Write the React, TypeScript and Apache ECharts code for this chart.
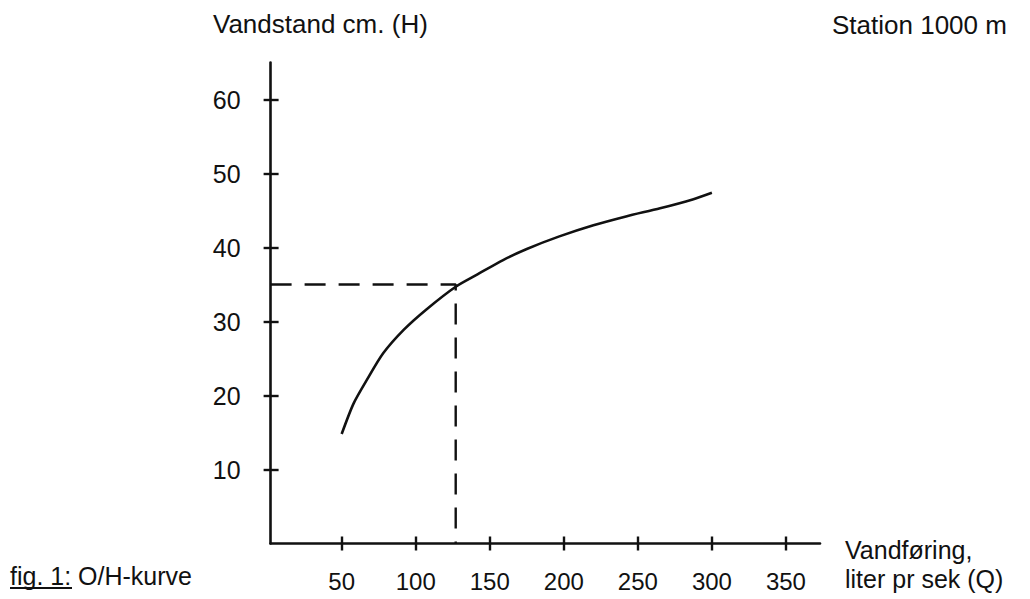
import React, { useEffect, useRef } from "react";
import * as echarts from "echarts";

// Discharge Q (litres per second) and water level H (cm) along the rating curve
const flowValues = [50, 58, 67, 78, 92, 107, 127, 142, 159, 175, 197, 220, 242, 265, 287, 300];
const stageValues = [14.8, 18.9, 22.1, 25.7, 28.9, 31.6, 34.7, 36.4, 38.3, 39.8, 41.5, 43.0, 44.2, 45.3, 46.5, 47.4];

// Reading taken off the curve (dashed guide lines)
const readFlow = 127;
const readStage = 35;

const flowTicks = [50, 100, 150, 200, 250, 300, 350];
const stageTicks = [10, 20, 30, 40, 50, 60];

const FLOW_MIN = 2;
const FLOW_MAX = 373;
const STAGE_MIN = 0;
const STAGE_MAX = 65;

const INK = "#111111";
const FONT = "'Liberation Sans', Arial, sans-serif";

export default function App() {
  const ref = useRef<HTMLDivElement>(null);

  useEffect(() => {
    if (!ref.current) return;
    const chart = echarts.init(ref.current, undefined, { renderer: "svg" });

    const curve = flowValues.map((q, i) => [q, stageValues[i]]);
    const guide = [
      [FLOW_MIN, readStage],
      [readFlow, readStage],
      [readFlow, STAGE_MIN],
    ];

    const baseX = {
      type: "value" as const,
      min: FLOW_MIN,
      max: FLOW_MAX,
      position: "bottom" as const,
      splitLine: { show: false },
    };
    const baseY = {
      type: "value" as const,
      min: STAGE_MIN,
      max: STAGE_MAX,
      position: "left" as const,
      splitLine: { show: false },
    };

    const textStyle = (text: string, size: number) => ({
      text,
      font: `${size}px ${FONT}`,
      fill: INK,
      textAlign: "left",
      textVerticalAlign: "middle",
      align: "left",
      verticalAlign: "middle",
    });

    chart.setOption({
      animation: false,
      backgroundColor: "#ffffff",
      grid: { left: 270.6, right: 210, top: 62.5, bottom: 55.5, containLabel: false },
      xAxis: [
        {
          ...baseX,
          axisLine: { show: true, lineStyle: { color: INK, width: 2.6 } },
          axisTick: {
            show: true,
            inside: false,
            length: 7,
            customValues: flowTicks,
            lineStyle: { color: INK, width: 2.4 },
          },
          axisLabel: {
            show: true,
            customValues: flowTicks,
            margin: 26,
            color: INK,
            fontFamily: FONT,
            fontSize: 24,
          },
        },
        {
          ...baseX,
          axisLine: { show: false },
          axisTick: {
            show: true,
            inside: true,
            length: 7,
            customValues: flowTicks,
            lineStyle: { color: INK, width: 2.4 },
          },
          axisLabel: { show: false },
        },
      ],
      yAxis: [
        {
          ...baseY,
          axisLine: { show: true, onZero: false, lineStyle: { color: INK, width: 2.6 } },
          axisTick: {
            show: true,
            inside: false,
            length: 7,
            customValues: stageTicks,
            lineStyle: { color: INK, width: 2.4 },
          },
          axisLabel: {
            show: true,
            customValues: stageTicks,
            margin: 30,
            color: INK,
            fontFamily: FONT,
            fontSize: 25,
          },
        },
        {
          ...baseY,
          axisLine: { show: false },
          axisTick: {
            show: true,
            inside: true,
            length: 8,
            customValues: stageTicks,
            lineStyle: { color: INK, width: 2.4 },
          },
          axisLabel: { show: false },
        },
      ],
      series: [
        {
          name: "O/H-kurve",
          type: "line",
          xAxisIndex: 0,
          yAxisIndex: 0,
          data: curve,
          smooth: 0.25,
          showSymbol: false,
          symbol: "none",
          lineStyle: { color: INK, width: 2.6 },
          z: 3,
        },
        {
          name: "Aflæsning",
          type: "line",
          xAxisIndex: 0,
          yAxisIndex: 0,
          data: guide,
          showSymbol: false,
          symbol: "none",
          lineStyle: { color: INK, width: 2.4, type: [21, 13] },
          z: 2,
        },
      ],
      graphic: [
        { type: "text", x: 213, y: 24, style: textStyle("Vandstand cm. (H)", 26) },
        { type: "text", x: 832, y: 25, style: textStyle("Station 1000 m", 26) },
        { type: "text", x: 845, y: 550, style: textStyle("Vandføring,", 25) },
        { type: "text", x: 845, y: 579, style: textStyle("liter pr sek (Q)", 25) },
        { type: "text", x: 10, y: 576, style: textStyle("fig. 1: O/H-kurve", 25) },
        {
          type: "line",
          shape: { x1: 10, y1: 588, x2: 72, y2: 588 },
          style: { stroke: INK, lineWidth: 2 },
        },
      ],
    });

    return () => {
      chart.dispose();
    };
  }, []);

  return (
    <div
      ref={ref}
      style={{ position: "fixed", left: 0, top: 0, width: 1030, height: 599, background: "#fff" }}
    />
  );
}
